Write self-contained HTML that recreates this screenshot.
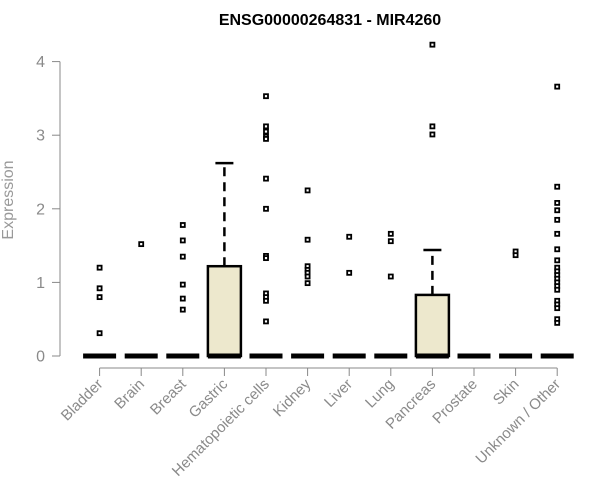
<!DOCTYPE html>
<html><head><meta charset="utf-8"><style>
body{margin:0;background:#fff;}
svg{display:block;font-family:"Liberation Sans",Arial,sans-serif;}
</style></head><body>
<svg id="chart" width="600" height="500" viewBox="0 0 600 500">
<text x="330" y="25" text-anchor="middle" font-size="16" font-weight="bold">ENSG00000264831 - MIR4260</text>
<text transform="translate(13,200) rotate(-90)" text-anchor="middle" font-size="16" fill="#999">Expression</text>
<g id="yaxis"></g>
<g id="xaxis"></g>
<g id="marks"></g>
</svg>
<script>
const categories=["Bladder","Brain","Breast","Gastric","Hematopoietic cells","Kidney","Liver","Lung","Pancreas","Prostate","Skin","Unknown / Other"];
const boxUpper=[0,0,0,1.22,0,0,0,0,0.83,0,0,0];
const whiskerTop=[0,0,0,2.62,0,0,0,0,1.44,0,0,0];
const outliers=[
[1.2,0.92,0.8,0.31],
[1.52],
[1.78,1.57,1.35,0.97,0.78,0.63],
[],
[3.53,3.12,3.05,2.98,2.95,2.41,2.0,1.36,1.33,0.85,0.8,0.75,0.47],
[2.25,1.58,1.22,1.17,1.13,1.08,0.99],
[1.62,1.13],
[1.66,1.56,1.08],
[4.23,3.12,3.01],
[],
[1.42,1.37],
[3.66,2.3,2.08,1.98,1.85,1.66,1.45,1.3,1.2,1.15,1.1,1.05,1.0,0.95,0.9,0.75,0.7,0.65,0.5,0.45]
];
const yTicks=[0,1,2,3,4];
const NS="http://www.w3.org/2000/svg";
const x=i=>99.6+i*41.6;
const y=v=>356-v*73.6;
function mk(tag,attrs,parent){const e=document.createElementNS(NS,tag);for(const k in attrs)e.setAttribute(k,attrs[k]);parent.appendChild(e);return e;}
const ya=document.getElementById('yaxis'),xa=document.getElementById('xaxis'),mg=document.getElementById('marks');
let l=mk('line',{x1:60,x2:60,y1:y(0),y2:y(4),stroke:'#888'},ya);


yTicks.forEach(t=>{
 let tl=mk('line',{x1:52,x2:60,y1:y(t),y2:y(t),stroke:'#888'},ya);
 
 
 let tx=mk('text',{x:45,y:y(t)+5.5,'text-anchor':'end','font-size':16,fill:'#8a8a8a'},ya);
 tx.textContent=t;
 
 
});
let xl=mk('line',{x1:x(0),x2:x(11),y1:368,y2:368,stroke:'#888'},xa);


categories.forEach((c,i)=>{
 let tl=mk('line',{x1:x(i),x2:x(i),y1:368,y2:376,stroke:'#888'},xa);
 
 
 let tx=mk('text',{transform:`translate(${x(i)+4},${385}) rotate(-45)`,'text-anchor':'end','font-size':15,fill:'#8a8a8a'},xa);
 tx.textContent=c;
 
 
 const g=mk('g',{},mg);
 
 
 if(whiskerTop[i]>boxUpper[i]){
  let w=mk('line',{x1:x(i),x2:x(i),y1:y(boxUpper[i]),y2:y(whiskerTop[i]),stroke:'#000','stroke-width':2.5,'stroke-dasharray':'9,6'},g);
  
  
  let cap=mk('line',{x1:x(i)-9,x2:x(i)+9,y1:y(whiskerTop[i]),y2:y(whiskerTop[i]),stroke:'#000','stroke-width':2.5},g);
  
  
 }
 if(boxUpper[i]>0){
  let r=mk('rect',{x:x(i)-16.5,y:y(boxUpper[i]),width:33,height:y(0)-y(boxUpper[i]),fill:'#ede8cd',stroke:'#000','stroke-width':2.5},g);
  
  
 }
 let m=mk('line',{x1:x(i)-16.5,x2:x(i)+16.5,y1:y(0),y2:y(0),stroke:'#000','stroke-width':5},g);
 
 
 outliers[i].forEach(v=>{
  let p=mk('rect',{x:x(i)-2,y:y(v)-2,width:4,height:4,fill:'#fff',stroke:'#000','stroke-width':1.8},g);
  
  
 });
});
</script>
</body></html>
